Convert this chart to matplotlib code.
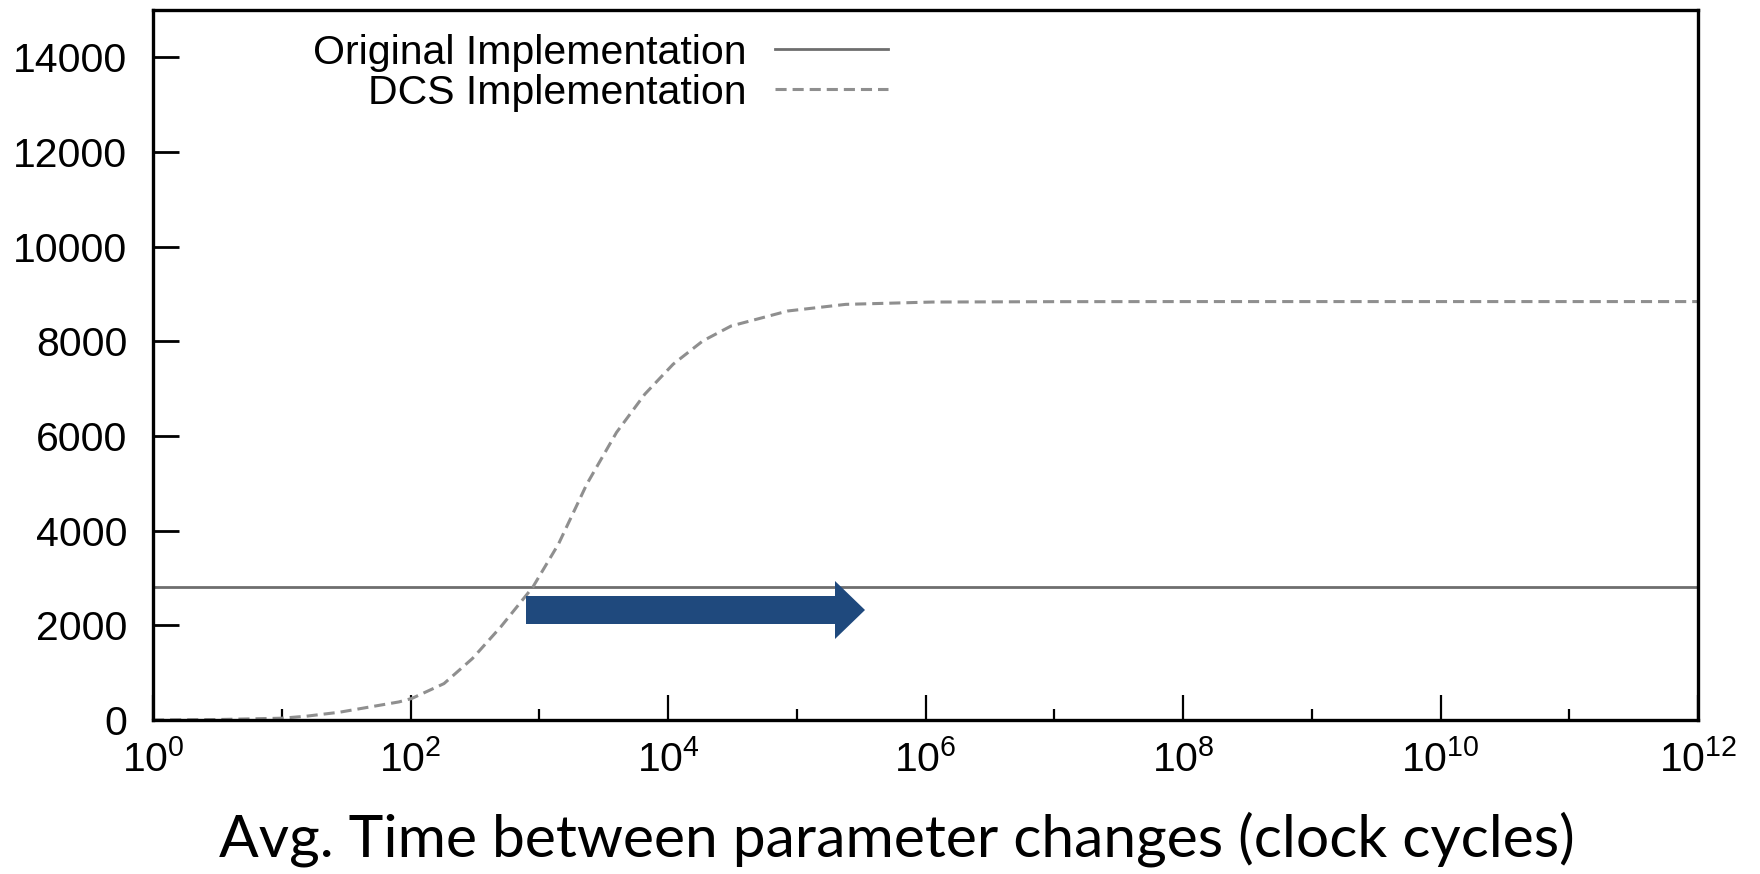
"""DCS vs original implementation: time between parameter changes."""

import matplotlib

matplotlib.use("Agg")
import matplotlib.pyplot as plt
import numpy as np
from matplotlib.patches import FancyArrow
from matplotlib.ticker import LogFormatterSciNotation, NullFormatter

# values (x as log10 of clock cycles)
DCS_EXP = [0.0, 0.5, 1.0, 1.19, 1.45, 1.91, 2.01, 2.26, 2.48, 2.70, 2.95, 3.15,
           3.37, 3.60, 3.82, 4.04, 4.27, 4.49, 4.93, 5.38, 6.05, 7.0, 8.0, 10.0, 12.0]
DCS_VALUES = [0, 10, 38, 80, 165, 382, 455, 769, 1296, 1964, 2807, 3721,
              4986, 6075, 6884, 7517, 8008, 8324, 8641, 8781, 8830, 8838, 8840, 8840, 8840]
ORIG_CYCLES = [1e0, 1e12]
ORIG_VALUES = [2810, 2810]

LABELS = ["Original Implementation", "DCS Implementation"]
XLABEL = "Avg. Time between parameter changes (clock cycles)"
X_MAJOR = [1e0, 1e2, 1e4, 1e6, 1e8, 1e10, 1e12]
X_MINOR = [1e1, 1e3, 1e5, 1e7, 1e9, 1e11]
Y_TICKS = [0, 2000, 4000, 6000, 8000, 10000, 12000, 14000]

plt.rcParams["font.family"] = ["Liberation Sans", "DejaVu Sans"]
plt.rcParams["mathtext.fontset"] = "custom"
plt.rcParams["mathtext.rm"] = "Liberation Sans"
plt.rcParams["mathtext.it"] = "Liberation Sans:italic"
plt.rcParams["mathtext.bf"] = "Liberation Sans:bold"
plt.rcParams["lines.scale_dashes"] = False

W, H = 1760, 874
fig = plt.figure(figsize=(W / 100, H / 100), dpi=100)
ax_l, ax_r, ax_t, ax_b = 153, 1698, 10, 720
ax = fig.add_axes([ax_l / W, 1 - ax_b / H, (ax_r - ax_l) / W, (ax_b - ax_t) / H])

SOLID = "#6e6e6e"
DASHED = "#8f8f8f"

dcs_x = 10.0 ** np.array(DCS_EXP)
ax.plot(ORIG_CYCLES, ORIG_VALUES, color=SOLID, linewidth=2.0, solid_capstyle="butt", zorder=2)
ax.plot(dcs_x, DCS_VALUES, color=DASHED, linewidth=2.2, dashes=(8, 4.3), zorder=2)

ax.set_xscale("log")
ax.set_xlim(1e0, 1e12)
ax.set_ylim(0, 15000)
ax.set_xticks(X_MAJOR)
ax.set_xticks(X_MINOR, minor=True)
ax.xaxis.set_major_formatter(LogFormatterSciNotation())
ax.xaxis.set_minor_formatter(NullFormatter())
ax.set_yticks(Y_TICKS)
ax.set_yticklabels([str(v) for v in Y_TICKS])

ax.tick_params(axis="both", which="both", direction="in", top=False, right=False,
               colors="black", labelsize=29.5)
ax.tick_params(axis="y", which="major", length=19, width=2.0, pad=18.5)
ax.tick_params(axis="x", which="major", length=18, width=1.6, pad=14)
ax.tick_params(axis="x", which="minor", length=8, width=1.6)

for spine in ax.spines.values():
    spine.set_linewidth(2.4)
    spine.set_color("black")
    spine.set_zorder(3)


# gnuplot-style key, text right-aligned with sample line after it
def ax_x(px):
    return (px - ax_l) / (ax_r - ax_l)


def ax_y(py):
    return (ax_b - py) / (ax_b - ax_t)


key_rows = [(64, 49, SOLID, "-"), (104, 89, DASHED, "--")]
for label, (base_py, line_py, color, style) in zip(LABELS, key_rows):
    ax.text(ax_x(746), ax_y(base_py), label, transform=ax.transAxes,
            ha="right", va="baseline", fontsize=29.5)
    if style == "-":
        ax.plot([ax_x(775), ax_x(888)], [ax_y(line_py)] * 2, transform=ax.transAxes,
                color=color, linewidth=2.0, clip_on=False)
    else:
        ax.plot([ax_x(775), ax_x(888)], [ax_y(line_py)] * 2, transform=ax.transAxes,
                color=color, linewidth=2.2, dashes=(8, 4.3), clip_on=False)

# blue arrow overlay
arrow = FancyArrow(ax_x(526), ax_y(610), ax_x(865) - ax_x(526), 0,
                   width=28 / (ax_b - ax_t), head_width=58 / (ax_b - ax_t),
                   head_length=(865 - 835) / (ax_r - ax_l), length_includes_head=True,
                   transform=ax.transAxes, color="#1f497d", linewidth=0, zorder=4)
ax.add_patch(arrow)

xl = fig.text(897 / W, 1 - 856.7 / H, XLABEL, fontsize=36, family=["Lato", "DejaVu Sans"],
              ha="center", va="baseline")
fig.canvas.draw()
width = xl.get_window_extent().width
xl.set_fontsize(36 * 1356 / width)

fig.savefig("out.png", dpi=100)
